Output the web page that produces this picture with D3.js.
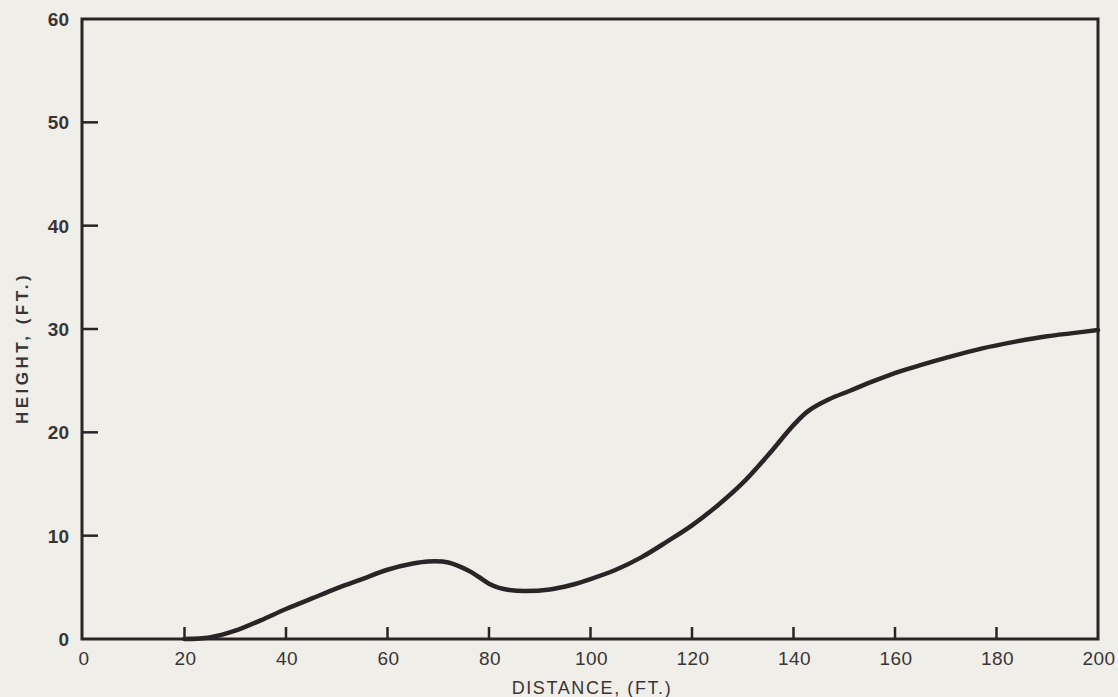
<!DOCTYPE html>
<html>
<head>
<meta charset="utf-8">
<script src="https://cdn.jsdelivr.net/npm/d3@7"></script>
<style>
  html, body { margin: 0; padding: 0; background: #efeee8; }
  svg { display: block; }
  text { font-family: "Liberation Sans", Arial, Helvetica, sans-serif; fill: #3a3436; }
</style>
</head>
<body>
<svg id="chart" width="1118" height="697"></svg>
<script>
// Ground profile: distance (ft) vs height (ft)
const distance = [20, 25, 30, 35, 40, 45, 50, 55, 60, 65, 68, 72, 76, 78, 80, 82, 84, 87, 92, 96, 100,
                  105, 110, 115, 120, 125, 130, 135, 140, 143, 147, 151, 156, 161, 165, 170, 177,
                  184, 190, 195, 200];
const height   = [0, 0.15, 0.8, 1.8, 2.9, 3.9, 4.9, 5.8, 6.7, 7.3, 7.5, 7.4, 6.6, 6.0, 5.35, 4.95,
                  4.75, 4.65, 4.8, 5.2, 5.8, 6.7, 7.9, 9.4, 11.0, 12.9, 15.1, 17.8, 20.7, 22.1, 23.2,
                  24.0, 25.0, 25.9, 26.5, 27.2, 28.1, 28.8, 29.3, 29.6, 29.9];

const xTicks = [0, 20, 40, 60, 80, 100, 120, 140, 160, 180, 200];
const yTicks = [0, 10, 20, 30, 40, 50, 60];
const xTitle = "DISTANCE, (FT.)";
const yTitle = "HEIGHT, (FT.)";

const svg = d3.select("#chart");
const ink = "#2b2426";

const m = { left: 83, right: 1098, top: 19, bottom: 639 };
const x = d3.scaleLinear().domain([0, 200]).range([m.left, m.right]);
const y = d3.scaleLinear().domain([0, 60]).range([m.bottom, m.top]);

// Frame
svg.append("rect")
  .attr("x", m.left - 1).attr("y", m.top)
  .attr("width", m.right - m.left + 1).attr("height", m.bottom - m.top)
  .attr("fill", "none").attr("stroke", ink).attr("stroke-width", 3);

// Inward tick marks (interior ticks only)
svg.append("g").selectAll("line")
  .data(xTicks.filter(d => d > 0 && d < 200))
  .join("line")
  .attr("x1", d => x(d)).attr("x2", d => x(d))
  .attr("y1", m.bottom).attr("y2", m.bottom - 12)
  .attr("stroke", ink).attr("stroke-width", 2.5);

svg.append("g").selectAll("line")
  .data(yTicks.filter(d => d > 0 && d < 60))
  .join("line")
  .attr("x1", m.left - 1).attr("x2", m.left + 15)
  .attr("y1", d => y(d)).attr("y2", d => y(d))
  .attr("stroke", ink).attr("stroke-width", 2.5);

// Tick labels
svg.append("g").selectAll("text")
  .data(xTicks)
  .join("text")
  .attr("x", d => x(d) + 1).attr("y", m.bottom + 26)
  .attr("text-anchor", "middle")
  .attr("font-size", 19)
  .attr("letter-spacing", 0.5)
  .text(d => d);

svg.append("g").selectAll("text")
  .data(yTicks)
  .join("text")
  .attr("x", 69).attr("y", d => y(d) + 7)
  .attr("text-anchor", "end")
  .attr("font-size", 19)
  .attr("font-weight", "bold")
  .text(d => d);

// Axis titles
svg.append("text")
  .attr("x", 592).attr("y", 694)
  .attr("text-anchor", "middle")
  .attr("font-size", 18)
  .attr("letter-spacing", 1.6)
  .text(xTitle);

svg.append("text")
  .attr("transform", "translate(28, 348) rotate(-90)")
  .attr("text-anchor", "middle")
  .attr("font-size", 17)
  .attr("font-weight", "bold")
  .attr("letter-spacing", 3.5)
  .text(yTitle);

// Profile curve
const pts = distance.map((d, i) => [d, height[i]]);
svg.append("path")
  .datum(pts)
  .attr("fill", "none")
  .attr("stroke", ink)
  .attr("stroke-width", 4.5)
  .attr("stroke-linecap", "round")
  .attr("d", d3.line().x(d => x(d[0])).y(d => y(d[1])).curve(d3.curveCatmullRom.alpha(0.5)));
</script>
</body>
</html>
